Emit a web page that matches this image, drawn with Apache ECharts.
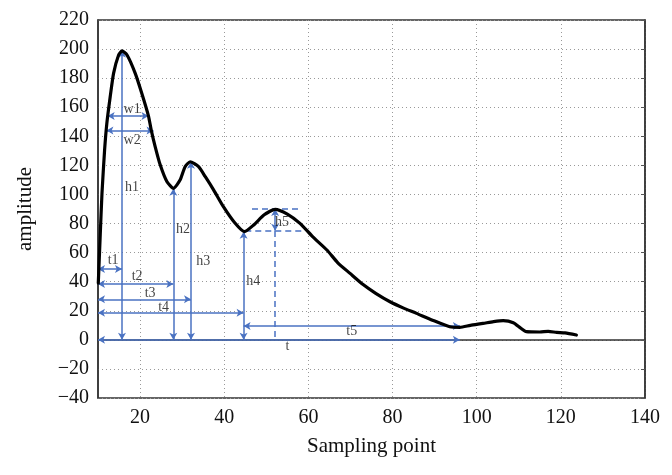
<!DOCTYPE html>
<html><head><meta charset="utf-8">
<script src="https://cdn.jsdelivr.net/npm/echarts@6/dist/echarts.min.js"></script>
<style>html,body{margin:0;padding:0;background:#fff}#c{width:672px;height:475px}</style>
</head><body><div id="c"></div>
<script>
// Waveform (sampling point, amplitude)
var curveX = [10.07,10.5,10.95,11.57,12.1,12.9,13.7,14.9,15.7,16.9,18.85,20.4,22.0,22.65,23.6,24.8,26.4,27.95,29.5,30.7,31.9,33.9,35.5,37.5,39.8,42.5,44.8,47,49.5,52.1,55,58,61,64.4,67,69.9,73,76,79.4,82.5,85.7,89.5,93.6,96,98.5,101.5,104,106.3,108.7,110.5,111.8,115,117,119,121,123.7];
var curveY = [39,70,101,130.6,148.9,167.2,183.3,195.9,198.7,195.9,183.3,169.6,153.9,144.3,132.8,120.2,108.7,104.2,109.9,119.1,122.5,119.1,112.2,103,91.6,80.5,74.4,79,86,89.8,86.5,80.1,71,61.8,53,45.7,38,32,26.2,22,18.2,13.5,9.0,8.6,10,11.3,12.5,13.2,11.8,8,5.6,5.4,5.8,5.1,4.8,3.3];
// Feature annotations: arrows [x1,y1,x2,y2]
var arrowNames = ['w1','w2','h1','h2','h3','h4','h5','t1','t2','t3','t4','t5','t'];
var arrowSegs = [
  [12.3,154,22.0,154],[12.0,144,23.2,144],
  [15.7,0,15.7,199],[27.9,0,27.9,104],[32.1,0,32.1,122.5],[44.6,0,44.6,74.4],[52.1,75,52.1,90],
  [10,48.7,15.7,48.7],[10,38.4,27.9,38.4],[10,27.9,32.1,27.9],[10,18.7,44.6,18.7],[44.6,9.5,96,9.5],[10,0,96,0]
];
var dashedSegs = [[46.6,90.4,58.4,90.4],[45,74.8,58.4,74.8],[52.1,74.8,52.1,0]];
// annotation label positions
var labelText = ['w1','w2','h1','h2','h3','h4','h5','t1','t2','t3','t4','t5','t'];
var labelX = [18.1,18.1,18.1,30.2,35.0,46.9,53.7,13.6,19.3,22.4,25.6,70.3,55.0];
var labelY = [158.5,137.5,104.6,76.2,53.7,40,80.5,54.4,43.4,32,22.4,5.6,-4.3];
var xTicks = [20,40,60,80,100,120,140];
var yTicks = [-40,-20,0,20,40,60,80,100,120,140,160,180,200,220];

var BLUE = '#4a72c2';
var FONT = 'Liberation Serif';
var curve = curveX.map(function(x,i){return [x,curveY[i]];});
function seg(s){return [{coord:[s[0],s[1]]},{coord:[s[2],s[3]]}];}
var labels = labelText.map(function(t,i){return {value:[labelX[i],labelY[i]],name:t};});

var chart = echarts.init(document.getElementById('c'));
chart.setOption({
  animation:false,
  grid:{left:98,right:27,top:20,bottom:77,show:true,borderColor:'#333',borderWidth:1.5,backgroundColor:'transparent'},
  xAxis:{type:'value',min:10,max:140,interval:10,
    name:'Sampling point',nameLocation:'middle',nameGap:38,
    nameTextStyle:{fontFamily:FONT,fontSize:21,color:'#111'},
    axisLine:{show:true,lineStyle:{color:'#333',width:1.5}},
    axisTick:{show:false},
    axisLabel:{fontFamily:FONT,fontSize:20,color:'#111',margin:10,showMinLabel:false,
      formatter:function(v){return xTicks.indexOf(v)>=0?String(v):'';}},
    splitLine:{show:true,lineStyle:{color:['rgba(0,0,0,0)','#999'],type:[1,3],width:1}}
  },
  yAxis:[{type:'value',min:-40,max:220,interval:20,
    name:'amplitude',nameLocation:'middle',nameGap:62,
    nameTextStyle:{fontFamily:FONT,fontSize:21,color:'#111'},
    axisLine:{show:true,lineStyle:{color:'#333',width:1.5}},
    axisTick:{show:false},
    axisLabel:{fontFamily:FONT,fontSize:20,color:'#111',margin:9,
      formatter:function(v){return yTicks.indexOf(v)>=0?(v<0?'\u2212'+(-v):String(v)):'';}},
    splitLine:{show:true,lineStyle:{color:'#999',type:[1,3],width:1}}
  },{type:'value',min:-40,max:220,interval:20,position:'right',
    axisLine:{show:true,lineStyle:{color:'#333',width:1.5}},
    axisTick:{show:true,inside:true,length:4,lineStyle:{color:'#555'}},
    axisLabel:{show:false},splitLine:{show:false}}],
  series:[
    {type:'line',data:[],silent:true,
      markLine:{silent:true,animation:false,symbol:['arrow','arrow'],symbolSize:[6,7],
        label:{show:false},lineStyle:{color:BLUE,width:1.5,type:'solid'},
        data:arrowSegs.map(seg)}},
    {type:'line',data:[],silent:true,
      markLine:{silent:true,animation:false,symbol:['none','none'],
        label:{show:false},lineStyle:{color:BLUE,width:1.5,type:[6,4]},
        data:dashedSegs.map(seg)}},
    {type:'line',data:curve,smooth:0.2,symbol:'none',z:5,
      lineStyle:{color:'#000',width:3.2,join:'round',cap:'round'}},
    {type:'scatter',data:labels,symbolSize:0,z:6,
      label:{show:true,position:'inside',formatter:function(p){return p.name;},
        fontFamily:FONT,fontSize:14,color:'#111'}}
  ]
});
</script></body></html>
